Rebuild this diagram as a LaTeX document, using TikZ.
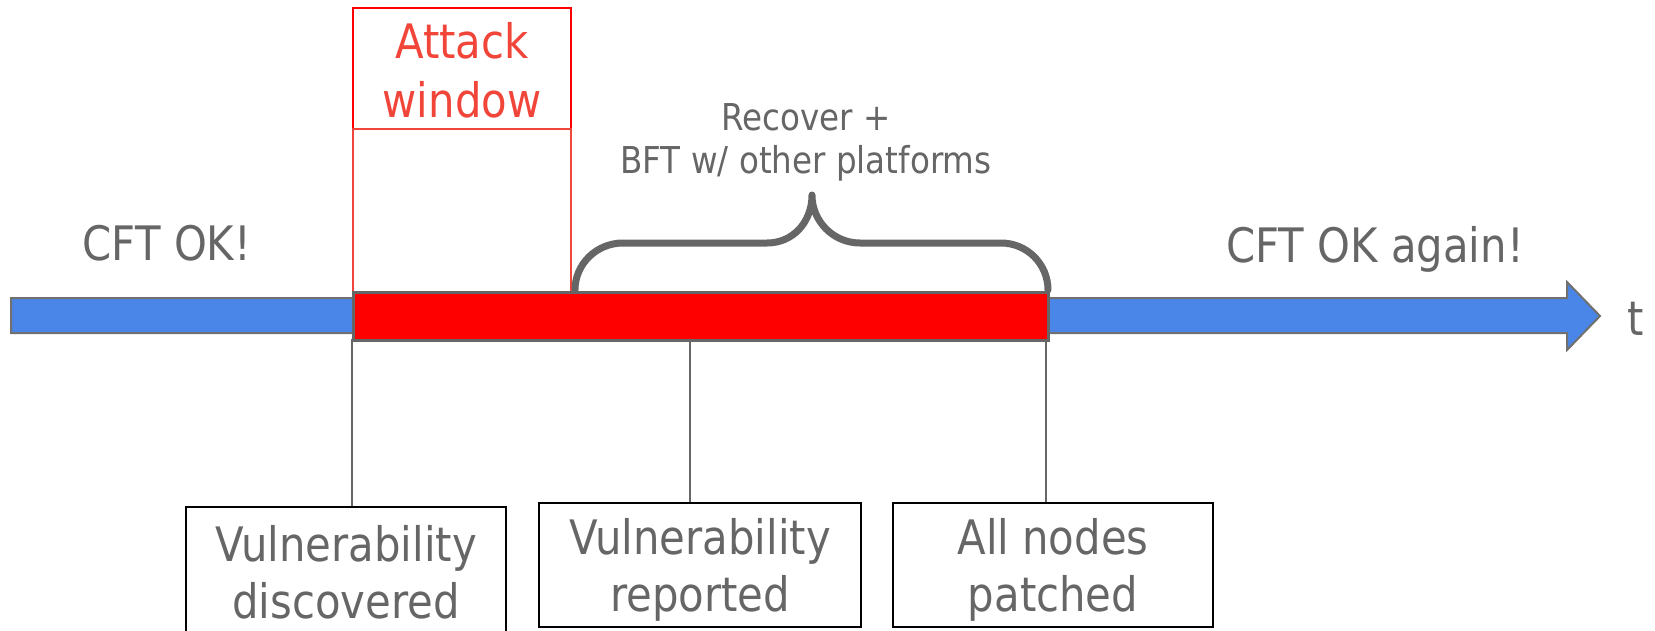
\documentclass[tikz,border=0pt]{standalone}
\usepackage{fontspec}
\setmainfont[FakeStretch=0.88]{DejaVu Sans}
\definecolor{txtgray}{HTML}{666666}
\definecolor{edgegray}{HTML}{707070}
\definecolor{axisblue}{HTML}{4A86E8}
\definecolor{alertred}{HTML}{FF0000}
\definecolor{labelred}{HTML}{F2453A}
\begin{document}
\begin{tikzpicture}[x=1pt,y=-1pt,
  bigtext/.style={font=\fontsize{47.5}{57}\selectfont, text=txtgray},
  smalltext/.style={font=\fontsize{37}{43}\selectfont, text=txtgray},
  eventbox/.style={draw=black, line width=2.5pt, fill=white, align=center,
    inner sep=0pt, minimum width=320pt, minimum height=124pt, bigtext},
  tickline/.style={draw=txtgray, line width=2pt},
]
\clip (0,0) rectangle (1655,630);
\fill[white] (0,0) rectangle (1655,630);

% time axis
\draw[fill=axisblue, draw=edgegray, line width=2pt, line join=miter]
  (11,298) -- (1567,298) -- (1567,282) -- (1600,316) -- (1567,350)
  -- (1567,333) -- (11,333) -- cycle;
\node[bigtext, anchor=base] (tlabel) at (1636,335) {t};

% attack window frame
\node[draw=alertred, line width=2pt, minimum width=218pt, minimum height=121pt,
  inner sep=0pt, anchor=north west, align=center, text=labelred,
  font=\fontsize{47.5}{59}\selectfont] (atklabel) at (352,7) {\rule{0pt}{40pt}Attack\\window};
\node[draw=labelred, line width=2pt, minimum width=218pt, minimum height=163pt,
  inner sep=0pt, anchor=north west] (atkwin) at (352,128) {};

% brace over the recovery period
\draw[txtgray, line width=7pt, line cap=round, line join=round]
  (575,290) .. controls (575,264) and (596.5,243) .. (623,243) -- (767,243)
  .. controls (793.5,243) and (812,221.5) .. (812,195)
  .. controls (812,221.5) and (833.5,243) .. (860,243) -- (1001,243)
  .. controls (1027,243) and (1048,264) .. (1048,290);
\node[smalltext, align=center] (recover) at (806,142) {Recover +\\BFT w/ other platforms};

% vulnerable period
\node[draw=txtgray, fill=alertred, line width=3pt, minimum width=695pt,
  minimum height=48pt, inner sep=0pt, anchor=north west] (bar) at (352,291) {};

\node[bigtext, anchor=base] (cftok) at (167,260) {CFT OK!};
\node[bigtext, anchor=base] (cftagain) at (1375,262) {CFT OK again!};

% events
\coordinate (tdisc) at (352,339);
\coordinate (trep) at (690,339);
\coordinate (tpatch) at (1046,339);
\node[eventbox, minimum height=129pt] (disc) at (346,571.5) {Vulnerability\\\smash{discovered}};
\node[eventbox, minimum width=322pt] (rep) at (700,565) {Vulnerability\\\smash{reported}};
\node[eventbox] (patch) at (1053,565) {All nodes\\\smash{patched}};
\draw[tickline] (tdisc) -- (tdisc |- disc.north);
\draw[tickline] (trep) -- (trep |- rep.north);
\draw[tickline] (tpatch) -- (tpatch |- patch.north);
\end{tikzpicture}
\end{document}
